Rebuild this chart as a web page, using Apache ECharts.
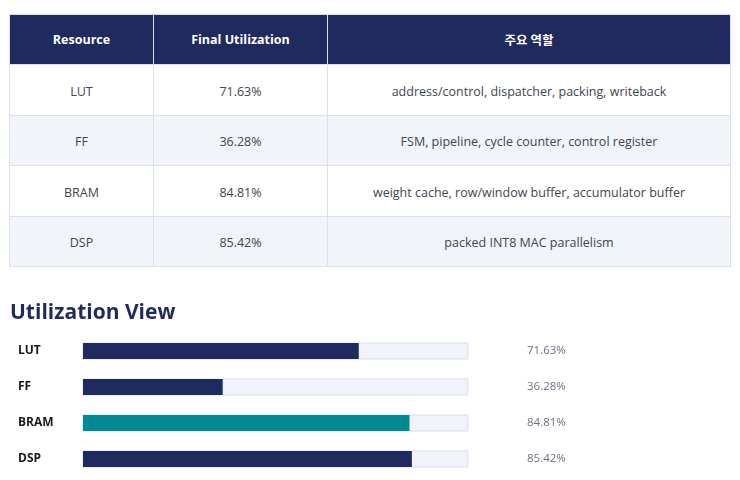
<!DOCTYPE html>
<html>
<head>
<meta charset="utf-8">
<script src="https://cdn.jsdelivr.net/npm/echarts@6/dist/echarts.min.js"></script>
<style>
  html, body { margin: 0; padding: 0; background: #ffffff; width: 740px; height: 480px; overflow: hidden; }
  body { font-family: "Open Sans", "Noto Sans CJK KR", sans-serif; }
  #tbl { position: absolute; left: 9px; top: 14px; width: 721px; border-collapse: collapse; table-layout: fixed; }
  #tbl th, #tbl td { border: 1px solid #dbe0ea; text-align: center; font-size: 12.5px; padding: 0; }
  #tbl th { background: #1f2a5e; color: #ffffff; font-weight: bold; height: 49px; border-color: #dbe0ea; }
  #tbl td { color: #40464f; height: 46.5px; padding-top: 3px; }
  #tbl tr.alt td { background: #f1f4f9; }
  #chart { position: absolute; left: 0; top: 290px; width: 740px; height: 190px; }
</style>
</head>
<body>
<table id="tbl">
  <colgroup><col style="width:144px"><col style="width:174px"><col style="width:403px"></colgroup>
  <thead><tr id="head"></tr></thead>
  <tbody id="body"></tbody>
</table>
<div id="chart"></div>
<script>
const headers = ["Resource", "Final Utilization", "주요 역할"];
const resources = ["LUT", "FF", "BRAM", "DSP"];
const utilization = [71.63, 36.28, 84.81, 85.42];
const roles = [
  "address/control, dispatcher, packing, writeback",
  "FSM, pipeline, cycle counter, control register",
  "weight cache, row/window buffer, accumulator buffer",
  "packed INT8 MAC parallelism"
];
const barColors = ["#1f2a5e", "#1f2a5e", "#008b95", "#1f2a5e"];
const chartTitle = "Utilization View";

// table
const head = document.getElementById("head");
headers.forEach(h => { const th = document.createElement("th"); th.textContent = h; head.appendChild(th); });
const body = document.getElementById("body");
resources.forEach((r, i) => {
  const tr = document.createElement("tr");
  if (i % 2 === 1) tr.className = "alt";
  [r, utilization[i].toFixed(2) + "%", roles[i]].forEach(t => {
    const td = document.createElement("td"); td.textContent = t; tr.appendChild(td);
  });
  body.appendChild(tr);
});

// chart
const chart = echarts.init(document.getElementById("chart"));
const font = '"Open Sans", "Noto Sans CJK KR", sans-serif';
chart.setOption({
  animation: false,
  textStyle: { fontFamily: font },
  title: {
    text: chartTitle, left: 10, top: 13, padding: 0,
    textStyle: { fontSize: 21, fontWeight: "bold", color: "#1f2a5e", fontFamily: font }
  },
  grid: { left: 83, right: 272, top: 43, height: 144 },
  xAxis: { type: "value", min: 0, max: 100, show: false },
  yAxis: [
    {
      type: "category", inverse: true, data: resources,
      axisLine: { show: false }, axisTick: { show: false },
      axisLabel: { align: "left", margin: 65, fontSize: 12, fontWeight: "bold", color: "#1a1a1a", fontFamily: font }
    },
    {
      type: "category", inverse: true, position: "right",
      data: utilization.map(v => v.toFixed(2) + "%"),
      axisLine: { show: false }, axisTick: { show: false },
      axisLabel: { align: "left", margin: 59, fontSize: 11.5, color: "#6b7280", fontFamily: font }
    }
  ],
  series: [{
    type: "bar", yAxisIndex: 0, barWidth: 16,
    data: utilization.map((v, i) => ({ value: v, itemStyle: { color: barColors[i] } })),
    showBackground: true,
    backgroundStyle: { color: "#f0f3f9", borderColor: "#d9dfeb", borderWidth: 1 }
  }]
});
</script>
</body>
</html>
